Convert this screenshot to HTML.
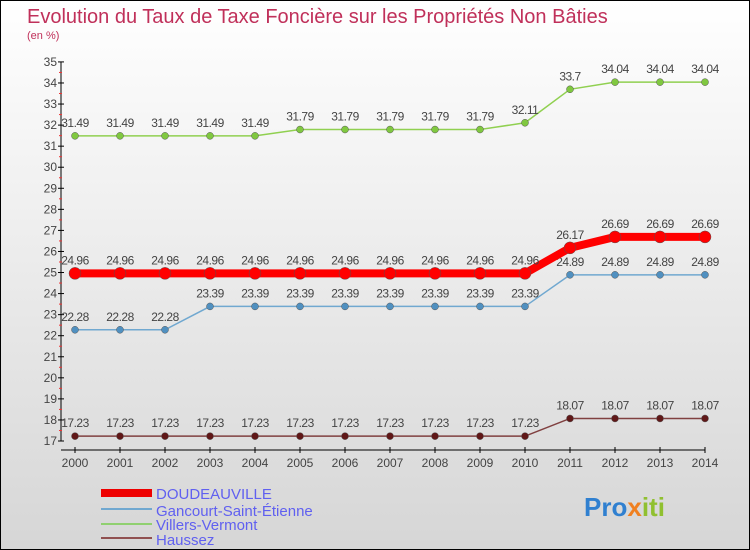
<!DOCTYPE html>
<html><head><meta charset="utf-8"><style>
body{margin:0}
#c{width:748px;height:548px;border:1px solid #000;background:linear-gradient(#fff,#d6d6d6);position:relative;font-family:"Liberation Sans",sans-serif;overflow:hidden}
</style></head><body>
<div id="c">
<svg id="s" width="748" height="548" xmlns="http://www.w3.org/2000/svg">
<text x="26" y="22" font-size="20" fill="#c0305a">Evolution du Taux de Taxe Foncière sur les Propriétés Non Bâties</text>
<text x="26" y="38" font-size="11" fill="#c0305a">(en %)</text>
<g id="axes"></g><g id="series"></g>
<g>
<rect x="100" y="488" width="51" height="8" fill="#e00"/>
<text x="155" y="498" font-size="15" fill="#6060f0">DOUDEAUVILLE</text>
<rect x="100" y="507" width="51" height="2" fill="#70a8d0"/>
<text x="155" y="515" font-size="15" fill="#6060f0">Gancourt-Saint-Étienne</text>
<rect x="100" y="522" width="51" height="2" fill="#90d070"/>
<text x="155" y="529" font-size="15" fill="#6060f0">Villers-Vermont</text>
<rect x="100" y="536" width="51" height="2" fill="#905050"/>
<text x="155" y="544" font-size="15" fill="#6060f0">Haussez</text>
</g>
<text x="583" y="515" font-size="26" font-weight="bold" fill="#3080d0">Pro<tspan fill="#f08020">x</tspan><tspan fill="#90c030">iti</tspan></text>
</svg>
</div>
<script>
const years=[2000,2001,2002,2003,2004,2005,2006,2007,2008,2009,2010,2011,2012,2013,2014];
const doudeauville=[24.96,24.96,24.96,24.96,24.96,24.96,24.96,24.96,24.96,24.96,24.96,26.17,26.69,26.69,26.69];
const gancourt=[22.28,22.28,22.28,23.39,23.39,23.39,23.39,23.39,23.39,23.39,23.39,24.89,24.89,24.89,24.89];
const villers=[31.49,31.49,31.49,31.49,31.49,31.79,31.79,31.79,31.79,31.79,32.11,33.7,34.04,34.04,34.04];
const haussez=[17.23,17.23,17.23,17.23,17.23,17.23,17.23,17.23,17.23,17.23,17.23,18.07,18.07,18.07,18.07];
const yTicks=[17,18,19,20,21,22,23,24,25,26,27,28,29,30,31,32,33,34,35];
const NS="http://www.w3.org/2000/svg";
const X=i=>74+i*45, Y=v=>440-(v-17)*21.06;
function mk(t,a,p){const e=document.createElementNS(NS,t);for(const k in a)e.setAttribute(k,a[k]);(p||document.getElementById('axes')).appendChild(e);return e;}
const ax=document.getElementById('axes');
let e=mk('line',{x1:60,y1:Y(35),x2:60,y2:Y(17),stroke:'#000'});

e=mk('line',{x1:60,y1:449,x2:X(14),y2:449,stroke:'#000'});

yTicks.forEach(v=>{
 mk('line',{x1:57,y1:Y(v),x2:63,y2:Y(v),stroke:'#000'});
 if(v<35)mk('line',{x1:58,y1:Y(v+0.5),x2:61,y2:Y(v+0.5),stroke:'#e33'});
 const t=mk('text',{x:56,y:Y(v)+4,'font-size':12,fill:'#444','text-anchor':'end'});t.textContent=v;
 
});
years.forEach((y,i)=>{
 mk('line',{x1:X(i),y1:446,x2:X(i),y2:452,stroke:'#000'});
 const t=mk('text',{x:X(i),y:466,'font-size':12,fill:'#444','text-anchor':'middle'});t.textContent=y;
 
});
const sg=document.getElementById('series');
function series(name,data,col,w,r,dot){
 const g=mk('g',{},sg);
 
 mk('polyline',{points:data.map((v,i)=>X(i)+','+Y(v)).join(' '),fill:'none',stroke:col,'stroke-width':w},g);
 data.forEach((v,i)=>{
  const c=mk('circle',{cx:X(i),cy:Y(v),r:r,fill:dot,stroke:'#555','stroke-width':0.5},g);
  
  const t=mk('text',{x:X(i),y:Y(v)-9,'font-size':12,fill:'#444','text-anchor':'middle','letter-spacing':'-0.5'},g);
  t.textContent=String(v).replace('.','').length&&String(v);
  
 });
}
series('villers',villers,'#90d050',1.5,3.5,'#80c840');
series('gancourt',gancourt,'#70a8d0',1.5,3.5,'#5090c0');
series('haussez',haussez,'#804040',1.5,3.5,'#601818');
series('doudeauville',doudeauville,'#f00',8,6,'#f00');
</script>
</body></html>
